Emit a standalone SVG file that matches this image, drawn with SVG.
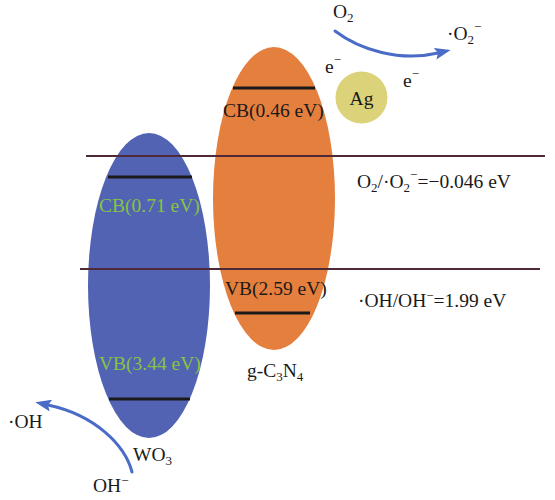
<svg xmlns="http://www.w3.org/2000/svg" width="555" height="500" viewBox="0 0 555 500">
<defs>
<style>
text{font-family:"Liberation Serif","Times New Roman",serif;font-size:19.5px;fill:#1a1a1a}
.g{fill:#86c440}
.s{font-size:13px}
.bar{stroke:#1a1a1a;stroke-width:3}
.lvl{stroke:#4e2a38;stroke-width:2}
.arr{fill:none;stroke:#4a6cc6;stroke-width:3;stroke-linecap:round}
</style>
<marker id="ah" markerUnits="userSpaceOnUse" viewBox="0 0 16 12" refX="3" refY="6" markerWidth="16" markerHeight="12" orient="auto">
<path d="M0,0 L16,6 L0,12 L3,6 z" fill="#4a6cc6"/>
</marker>
</defs>
<rect width="555" height="500" fill="#fff"/>
<g id="wo3">
<ellipse cx="149" cy="285.5" rx="61" ry="152.5" fill="#5263b4"/>
</g>
<g id="gc3n4">
<ellipse cx="274" cy="198.5" rx="61" ry="151.5" fill="#e57f3e"/>
</g>
<g id="levels">
<line class="lvl" x1="86" y1="156" x2="545" y2="156"/>
<line class="lvl" x1="80" y1="269" x2="540" y2="269"/>
</g>
<g id="bands">
<line class="bar" x1="233" y1="88" x2="315" y2="88"/>
<line class="bar" x1="235" y1="313" x2="310" y2="313"/>
<line class="bar" x1="108" y1="177" x2="192" y2="177"/>
<line class="bar" x1="109" y1="399" x2="190" y2="399"/>
</g>
<g id="ag">
<circle cx="361.5" cy="97.5" r="26" fill="#dcd27a"/>
<text x="361.5" y="105" text-anchor="middle">Ag</text>
</g>
<g id="connectors">
<path class="arr" d="M335,31 C360,50 400,62 438,53" marker-end="url(#ah)"/>
<path class="arr" d="M132,472 C125,445 95,415 48,405" marker-end="url(#ah)"/>
</g>
<g id="labels">
<text x="333" y="18">O<tspan class="s" dy="4">2</tspan></text>
<text x="447" y="40">·O<tspan class="s" dy="4">2</tspan><tspan class="s" dy="-13">−</tspan></text>
<text x="325" y="73">e<tspan class="s" dy="-9">−</tspan></text>
<text x="403" y="87">e<tspan class="s" dy="-9">−</tspan></text>
<text x="223" y="117">CB(0.46 eV)</text>
<text x="357" y="188">O<tspan class="s" dy="4">2</tspan><tspan dy="-4">/·O</tspan><tspan class="s" dy="4">2</tspan><tspan class="s" dy="-13">−</tspan><tspan dy="9">=−0.046 eV</tspan></text>
<text class="g" x="99" y="212">CB(0.71 eV)</text>
<text x="225" y="295">VB(2.59 eV)</text>
<text x="358" y="307">·OH/OH<tspan class="s" dy="-7">−</tspan><tspan dy="7">=1.99 eV</tspan></text>
<text class="g" x="99" y="370">VB(3.44 eV)</text>
<text x="247" y="377">g-C<tspan class="s" dy="4">3</tspan><tspan dy="-4">N</tspan><tspan class="s" dy="4">4</tspan></text>
<text x="8" y="428">·OH</text>
<text x="133" y="461">WO<tspan class="s" dy="4">3</tspan></text>
<text x="93" y="492">OH<tspan class="s" dy="-7">−</tspan></text>
</g>
</svg>
